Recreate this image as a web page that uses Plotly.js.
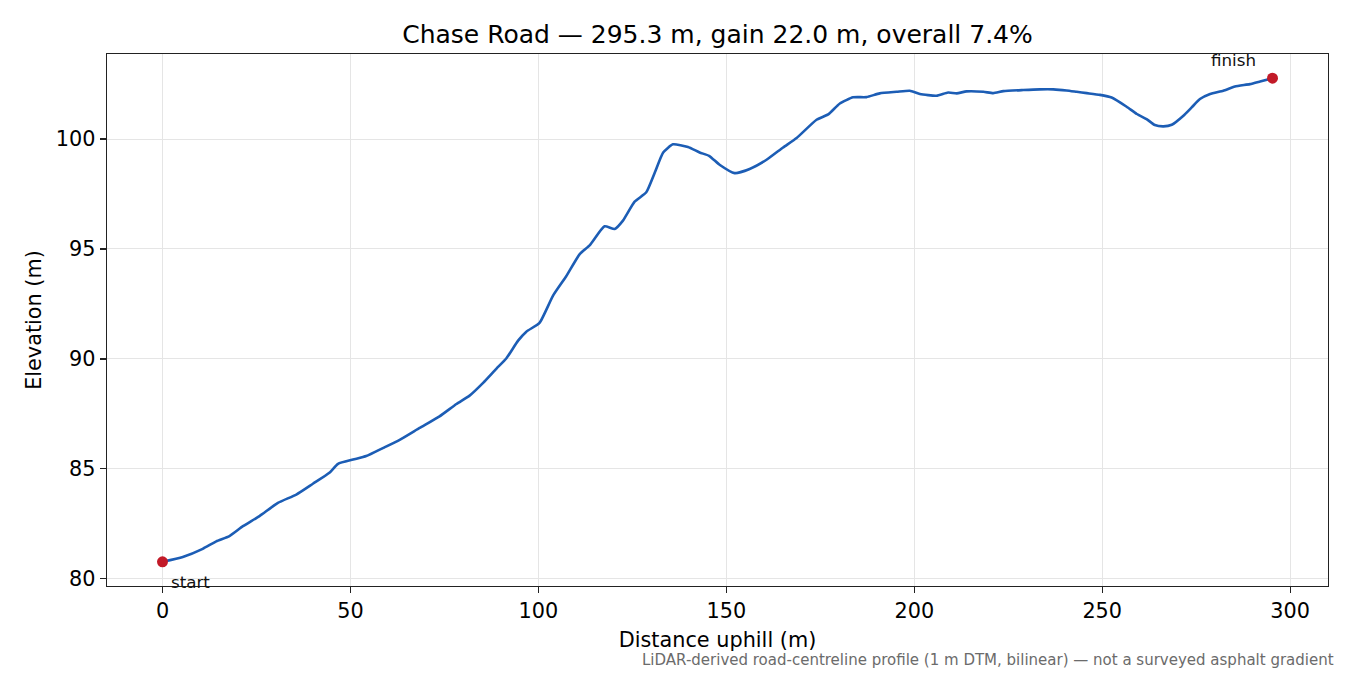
<!DOCTYPE html>
<html>
<head>
<meta charset="utf-8">
<script src="https://cdn.plot.ly/plotly-3.0.1.min.js"></script>
<style>html,body{margin:0;padding:0;background:#fff;}#chart{width:1350px;height:675px;}</style>
</head>
<body>
<div id="chart"></div>
<script>
const distance = [0, 5.4, 10.7, 14.3, 17.8, 21.4, 25.8, 30.7, 35.6, 40.0, 44.4, 46.7, 50.7, 54.2, 58.6, 63.1, 68.4, 73.7, 78.2, 81.7, 85.3, 88.8, 91.5, 94.6, 96.8, 100.3, 103.9, 107.4, 111.0, 113.7, 117.6, 120.3, 122.5, 125.6, 128.7, 131.0, 133.2, 135.8, 139.8, 142.9, 145.4, 148.3, 152.2, 156.2, 160.7, 165.1, 168.7, 174.0, 177.1, 180.2, 183.7, 187.3, 190.8, 195.3, 198.8, 201.5, 205.9, 209.0, 211.3, 213.9, 218.4, 221.0, 223.7, 229.0, 233.4, 237.0, 240.5, 243.2, 245.9, 249.4, 252.5, 256.5, 259.2, 261.8, 264.0, 266.3, 268.5, 271.6, 273.8, 276.0, 278.7, 282.2, 285.3, 289.3, 292.0, 295.3];
const elevation = [80.77, 80.99, 81.36, 81.70, 81.94, 82.39, 82.85, 83.45, 83.83, 84.32, 84.82, 85.23, 85.42, 85.58, 85.94, 86.32, 86.86, 87.39, 87.95, 88.33, 88.91, 89.55, 90.03, 90.83, 91.24, 91.64, 92.88, 93.76, 94.77, 95.18, 96.03, 95.91, 96.29, 97.15, 97.58, 98.49, 99.39, 99.76, 99.64, 99.39, 99.24, 98.82, 98.45, 98.64, 99.06, 99.62, 100.05, 100.88, 101.12, 101.62, 101.90, 101.91, 102.08, 102.15, 102.20, 102.05, 101.97, 102.12, 102.08, 102.17, 102.15, 102.09, 102.18, 102.23, 102.26, 102.26, 102.21, 102.15, 102.09, 102.01, 101.89, 101.47, 101.14, 100.91, 100.64, 100.58, 100.65, 101.06, 101.44, 101.82, 102.05, 102.20, 102.39, 102.50, 102.62, 102.77];
const endLabels = ["start", "finish"];
const xTicks = [0, 50, 100, 150, 200, 250, 300];
const yTicks = [80, 85, 90, 95, 100];
const titleText = "Chase Road — 295.3 m, gain 22.0 m, overall 7.4%";
const xLabel = "Distance uphill (m)";
const yLabel = "Elevation (m)";
const noteText = "LiDAR-derived road-centreline profile (1 m DTM, bilinear) — not a surveyed asphalt gradient";

const FONT = "DejaVu Sans, Liberation Sans, sans-serif";
const n = distance.length;
const endX = [distance[0], distance[n-1]];
const endY = [elevation[0], elevation[n-1]];

const traces = [
  {x: distance, y: elevation, type: "scatter", mode: "lines",
   line: {color: "#1c5db5", width: 2.6, shape: "spline", smoothing: 0.5}, hoverinfo: "skip"},
  {x: endX, y: endY, type: "scatter", mode: "markers",
   marker: {color: "#c21a28", size: 11}, hoverinfo: "skip"}
];

const layout = {
  width: 1350, height: 675,
  margin: {l: 107, r: 22, t: 54, b: 89},
  paper_bgcolor: "#fff", plot_bgcolor: "#fff",
  showlegend: false,
  font: {family: FONT, size: 20.8, color: "#000"},
  title: {text: titleText, font: {family: FONT, size: 25, color: "#000"}, xref: "paper", x: 0.5, xanchor: "center", yref: "container", y: 0.95, yanchor: "middle"},
  xaxis: {
    range: [-14.765, 310.065], tickvals: xTicks, ticktext: xTicks.map(String),
    showgrid: true, gridcolor: "#e5e5e5", gridwidth: 1, zeroline: false,
    showline: true, linecolor: "#222", linewidth: 1.3, mirror: true,
    ticks: "outside", ticklen: 6, tickwidth: 1.3, tickcolor: "#222",
    tickfont: {family: FONT, size: 20.8, color: "#000"},
    title: {text: xLabel, font: {family: FONT, size: 20.8, color: "#000"}, standoff: 10}
  },
  yaxis: {
    range: [79.67, 103.87], tickvals: yTicks, ticktext: yTicks.map(String),
    showgrid: true, gridcolor: "#e5e5e5", gridwidth: 1, zeroline: false,
    showline: true, linecolor: "#222", linewidth: 1.3, mirror: true,
    ticks: "outside", ticklen: 6, tickwidth: 1.3, tickcolor: "#222",
    tickfont: {family: FONT, size: 20.8, color: "#000"},
    title: {text: yLabel, font: {family: FONT, size: 20.8, color: "#000"}, standoff: 8}
  },
  shapes: [
    {type: "rect", xref: "x", yref: "paper", x0: 1.2, x1: 15, y0: -0.022, y1: -0.0035,
     fillcolor: "#fff", line: {width: 0}, layer: "above"}
  ],
  annotations: [
    {x: endX[0], y: endY[0], xref: "x", yref: "y", text: endLabels[0], showarrow: false,
     xanchor: "left", yanchor: "middle", xshift: 6, yshift: -20,
     font: {family: FONT, size: 16.7, color: "#111"}},
    {x: endX[1], y: endY[1], xref: "x", yref: "y", text: endLabels[1], showarrow: false,
     xanchor: "right", yanchor: "middle", xshift: -15, yshift: 18,
     font: {family: FONT, size: 16.7, color: "#111"}},
    {x: 1, y: 0, xref: "paper", yref: "paper", text: noteText, showarrow: false,
     xanchor: "right", yanchor: "middle", xshift: 8, yshift: -74,
     font: {family: FONT, size: 15, color: "#6b6b6b"}}
  ]
};

Plotly.newPlot("chart", traces, layout, {staticPlot: true, displayModeBar: false});
</script>
</body>
</html>
